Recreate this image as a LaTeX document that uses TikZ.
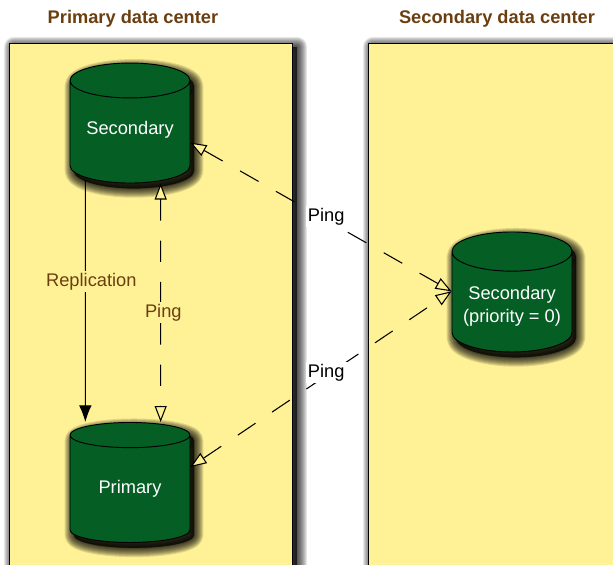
\documentclass[tikz,border=0pt]{standalone}
\usepackage{fontspec}
\setmainfont{Liberation Sans}
\usetikzlibrary{shapes, arrows.meta}
\definecolor{panelyellow}{HTML}{FFF296}
\definecolor{dbgreen}{HTML}{055F24}
\definecolor{titlebrown}{HTML}{6B3E10}
\begin{document}
\begin{tikzpicture}[x=0.75pt, y=-0.75pt, node distance=267.75pt, >=stealth]
    % Styles
    \tikzset{
        panelshade/.style={preaction={draw=black, fill=black, opacity=0.1, line join=round, line width=#1, transform canvas={shift={(3.5pt,-2.5pt)}}}},
        dbshade/.style={preaction={draw=black, fill=black, opacity=0.12, line join=round, line width=#1, transform canvas={shift={(3pt,-4pt)}}}}
    }
    \tikzstyle{panel} = [rectangle, draw, line width=0.7pt, fill=panelyellow, anchor=north west, minimum height=420pt, panelshade/.list={15pt,13.5pt,12pt,10.5pt,9pt,7.5pt,6pt,4.5pt,3pt,1.5pt}]
    \tikzstyle{dbnode} = [cylinder, shape border rotate=90, aspect=0.4, draw, line width=0.7pt, fill=dbgreen, text=white, minimum height=90pt, minimum width=90pt, align=center, inner sep=0pt, font=\fontsize{13.7pt}{17pt}\selectfont, dbshade/.list={14pt,12.5pt,11pt,9.5pt,8pt,6.5pt,5pt,3.5pt,2pt,1pt}]
    \tikzstyle{title} = [font=\fontsize{13.7pt}{17pt}\selectfont\bfseries, text=titlebrown]
    \tikzstyle{replica} = [draw, line width=0.8pt, -{Latex[length=12.5pt, width=9.5pt]}]
    \tikzstyle{ping} = [draw, line width=0.8pt, dash pattern=on 16pt off 15pt, {Triangle[open, fill=panelyellow, length=12pt, width=9pt]}-{Triangle[open, fill=panelyellow, length=12pt, width=9pt]}]
    \tikzstyle{label} = [midway, inner sep=1.5pt, font=\fontsize{13.7pt}{17pt}\selectfont]

    \clip (0,0) rectangle (613,564);

    % Nodes
    \node[panel, minimum width=212pt] (left) at (9,43) {};
    \node[panel, minimum width=200pt] (right) at (368,43) {};
    \node[title] (lefttitle) at (133,19) {Primary data center};
    \node[title] (righttitle) at (497,19) {Secondary data center};
    \node[dbnode] (secondary) at (130,132) {\raisebox{2pt}[\height][\depth]{Secondary}};
    \node[dbnode, below of=secondary] (primary) {\raisebox{0.5pt}[\height][\depth]{Primary}};
    \node[dbnode] (remote) at (512,302) {\raisebox{-3pt}[\height][\depth]{\shortstack{Secondary\\[1.5pt](priority = 0)}}};
    \coordinate (remotein) at ([yshift=8pt]remote.west);

    % Edges
    \draw[replica] ([xshift=-33.5pt, yshift=2.5pt]secondary.south) -- node[label, fill=panelyellow, text=titlebrown, pos=0.42, xshift=4.5pt] {Replication} ([xshift=-33.5pt]primary.north);
    \draw[ping] ([xshift=23pt]secondary.south) -- node[label, fill=panelyellow, text=titlebrown, pos=0.5425, xshift=2pt] {Ping} ([xshift=23pt]primary.north);
    \draw[ping] (secondary.-10) -- node[label, fill=white, pos=0.52, yshift=2.5pt] {Ping} (remotein);
    \draw[ping] (primary.20) -- node[label, fill=white, pos=0.52, yshift=2.5pt] {Ping} (remotein);

\end{tikzpicture}
\end{document}
